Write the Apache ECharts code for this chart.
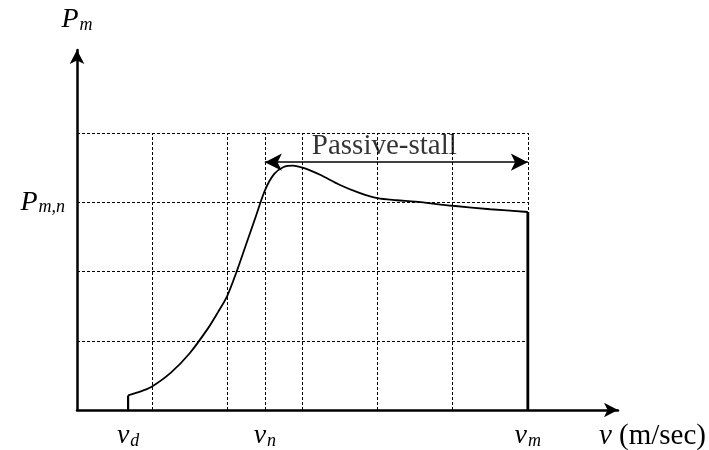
<!DOCTYPE html>
<html>
<head>
<meta charset="utf-8">
<script src="https://cdn.jsdelivr.net/npm/echarts@6/dist/echarts.min.js"></script>
<style>
  html, body { margin: 0; padding: 0; background: #fff; }
  #chart { width: 709px; height: 450px; }
</style>
</head>
<body>
<div id="chart"></div>
<script>
// Power curve of a passive-stall wind turbine, P_m versus wind speed v
const curveV = [1.36, 1.75, 2.0, 2.5, 3.0, 3.5, 3.75, 4.0, 4.25, 4.5, 4.75, 5.0, 5.25, 5.5, 5.75, 6.0, 6.25, 6.5, 7.0, 7.5, 8.0, 8.5, 9.0, 10.0, 11.0, 12.0];
const curveP = [0.21, 0.28, 0.34, 0.54, 0.82, 1.19, 1.41, 1.65, 2.0, 2.39, 2.78, 3.17, 3.41, 3.51, 3.53, 3.5, 3.45, 3.39, 3.25, 3.14, 3.06, 3.03, 3.01, 2.95, 2.9, 2.86];

// Speed markers: cut-in v_d, rated v_n, maximum v_m
const speedTicks = [1.36, 5, 12];
const speedSubs = ['d', 'n', 'm'];
// Rated power level
const powerTicks = [3];
const powerSubs = ['m,n'];

// Dashed reference grid
const gridV = [2, 4, 5, 6, 8, 10, 12];
const gridP = [1, 2, 3, 4];

// Passive-stall operating span
const stallFrom = 5, stallTo = 12, stallLevel = 3.58;
const stallText = 'Passive-stall';
const stallTextAt = 8.18;

const serif = "'Liberation Serif', 'Times New Roman', serif";
const ink = '#000';

const gridLines = [];
gridV.forEach(v => gridLines.push([{ coord: [v, 0] }, { coord: [v, gridP[gridP.length - 1]] }]));
gridP.forEach(p => gridLines.push([{ coord: [0, p] }, { coord: [gridV[gridV.length - 1], p] }]));

const chart = echarts.init(document.getElementById('chart'), null, { renderer: 'canvas' });

const symRich = {
  v: { fontFamily: serif, fontStyle: 'italic', fontSize: 28, color: ink },
  s: { fontFamily: serif, fontStyle: 'italic', fontSize: 18, color: ink, padding: [10, 0, 0, 1] },
  r: { fontFamily: serif, fontSize: 29, color: ink },
  w: { fontFamily: serif, fontStyle: 'italic', fontSize: 29, color: ink },
  P: { fontFamily: serif, fontStyle: 'italic', fontSize: 28, color: ink }
};

chart.setOption({
  animation: false,
  backgroundColor: '#fff',
  grid: { left: 77, right: 91, top: 50, bottom: 40, outerBoundsMode: 'none' },
  xAxis: {
    type: 'value', min: 0, max: 14.4,
    splitLine: { show: false },
    axisTick: { show: false },
    axisLine: { show: true, onZero: false, symbol: ['none', 'arrow'], symbolSize: [11, 14],
      lineStyle: { color: ink, width: 2.5 } },
    axisLabel: {
      customValues: speedTicks, margin: 12,
      formatter: val => {
        const i = speedTicks.findIndex(t => Math.abs(t - val) < 1e-6);
        return '{v|v}{s|' + speedSubs[i] + '}';
      },
      rich: symRich
    },
    name: '{w|v}{r| (m/sec)}',
    nameLocation: 'end', nameGap: 88,
    nameTextStyle: { align: 'right', verticalAlign: 'top', padding: [12, 0, 0, 0], rich: symRich }
  },
  yAxis: {
    type: 'value', min: 0, max: 5.2,
    splitLine: { show: false },
    axisTick: { show: false },
    axisLine: { show: true, onZero: false, symbol: ['none', 'arrow'], symbolSize: [11, 14],
      lineStyle: { color: ink, width: 2.5 } },
    axisLabel: {
      customValues: powerTicks, margin: 12,
      formatter: val => {
        const i = powerTicks.findIndex(t => Math.abs(t - val) < 1e-6);
        return '{P|P}{s|' + powerSubs[i] + '}';
      },
      rich: symRich
    },
    name: '{P|P}{s|m}',
    nameLocation: 'end', nameGap: 16,
    nameTextStyle: { rich: symRich }
  },
  series: [
    {
      name: 'grid', type: 'scatter', data: [], silent: true,
      markLine: {
        silent: true, symbol: 'none', animation: false,
        label: { show: false },
        lineStyle: { color: '#000', width: 1, type: [3, 2], opacity: 1 },
        data: gridLines
      }
    },
    {
      name: 'span', type: 'scatter', silent: true, symbolSize: 0,
      data: [[stallTextAt, stallLevel]],
      label: { show: true, position: 'top', distance: 1, formatter: stallText,
        fontFamily: serif, fontSize: 29, color: ink },
      markLine: {
        silent: true, symbol: ['arrow', 'arrow'], symbolSize: [13, 17], animation: false,
        label: { show: false },
        lineStyle: { color: ink, width: 1.5, type: 'solid' },
        data: [[{ coord: [stallFrom, stallLevel] }, { coord: [stallTo, stallLevel] }]]
      }
    },
    {
      name: 'Pm', type: 'line', smooth: 0.3, showSymbol: false, silent: true,
      data: curveV.map((v, i) => [v, curveP[i]]),
      lineStyle: { color: ink, width: 1.8 }
    },
    {
      name: 'cut-in', type: 'line', showSymbol: false, silent: true,
      data: [[curveV[0], 0], [curveV[0], curveP[0]]],
      lineStyle: { color: ink, width: 2.2 }
    },
    {
      name: 'cut-out', type: 'line', showSymbol: false, silent: true,
      data: [[curveV[curveV.length - 1], 0], [curveV[curveV.length - 1], curveP[curveP.length - 1]]],
      lineStyle: { color: ink, width: 2.8 }
    }
  ]
});
</script>
</body>
</html>
